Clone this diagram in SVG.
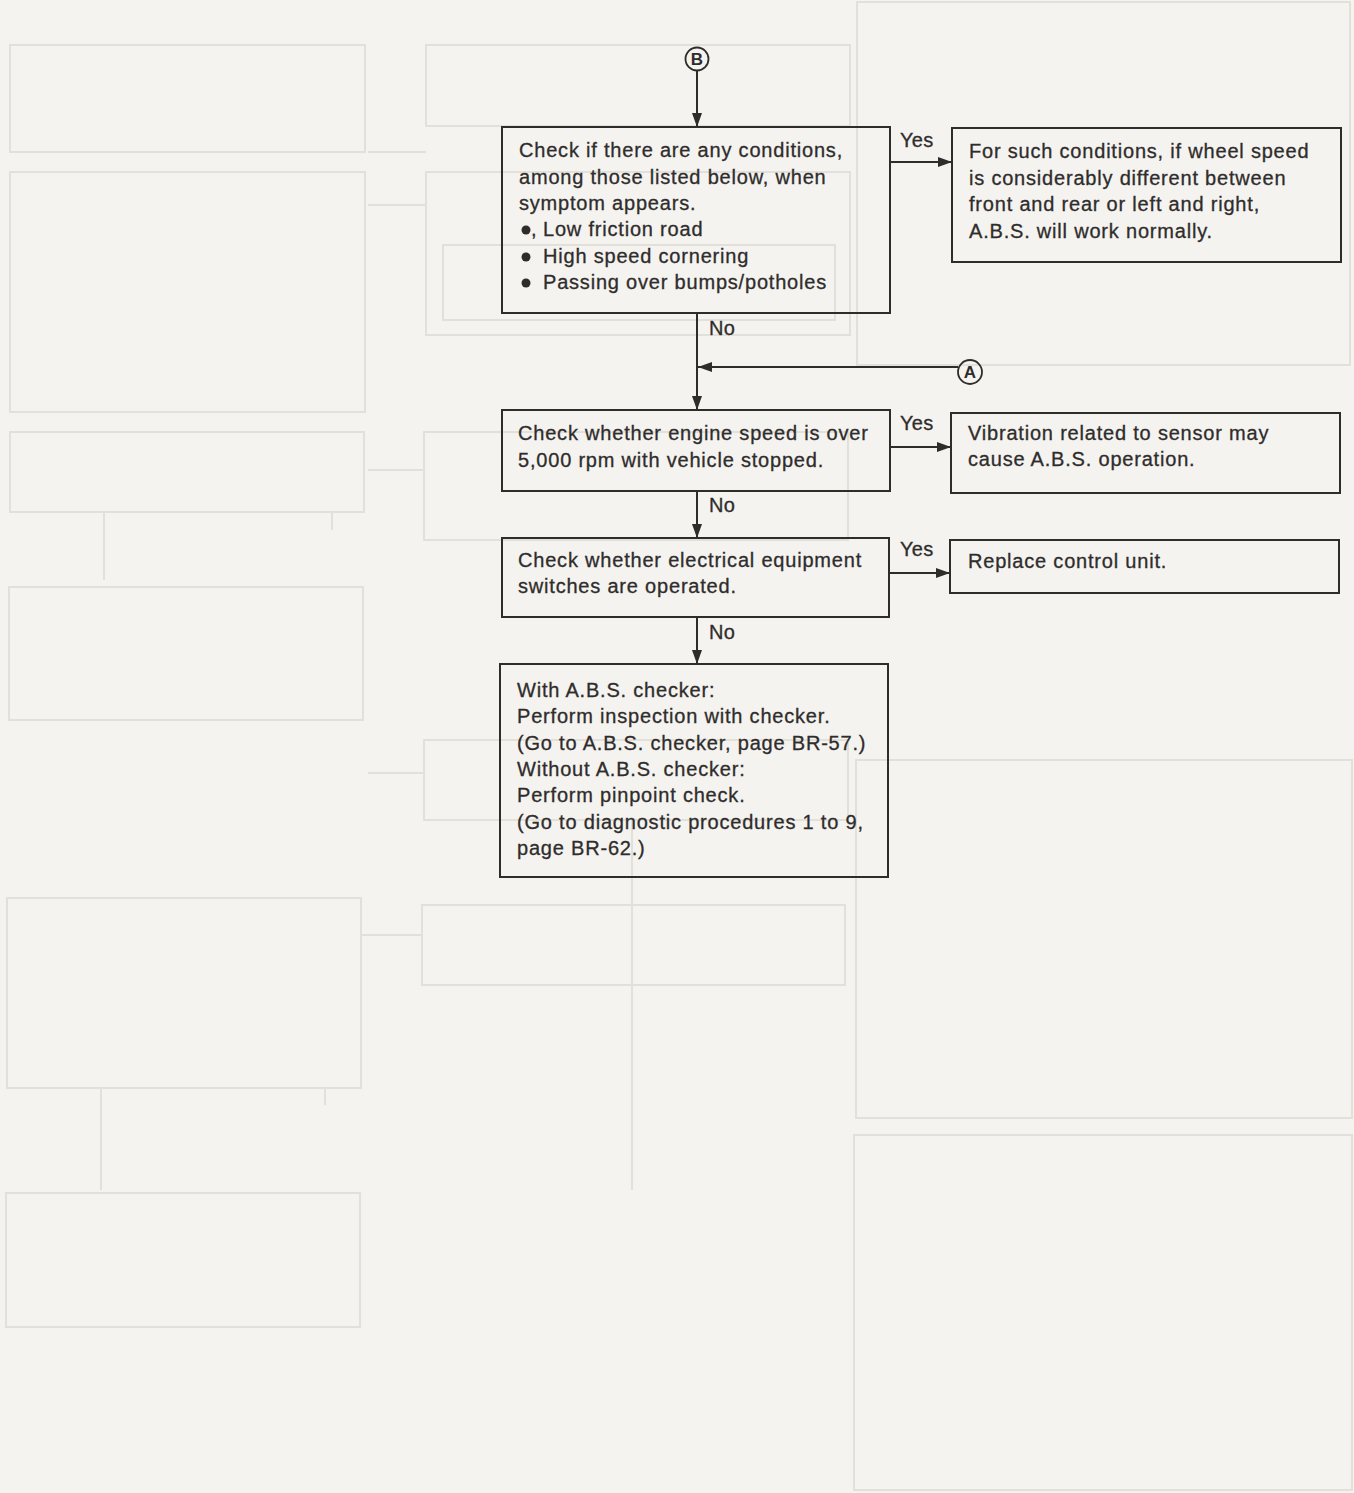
<svg xmlns="http://www.w3.org/2000/svg" width="1354" height="1493" viewBox="0 0 1354 1493">
  <style>
    .sheet { fill: #f4f3ef; }
    .ghost { fill: none; stroke: #e3e0d9; stroke-width: 2; }
    .box { fill: none; stroke: #2f2c2c; stroke-width: 2; }
    .wire { fill: none; stroke: #2f2c2c; stroke-width: 2; }
    .t { font-family: "Liberation Sans", Arial, Helvetica, sans-serif; font-size: 20px; letter-spacing: 0.8px; fill: #2f2c2c; stroke: #2f2c2c; stroke-width: 0.3px; }
    .lbl { font-family: "Liberation Sans", Arial, Helvetica, sans-serif; font-size: 20px; letter-spacing: 0.3px; fill: #2f2c2c; stroke: #2f2c2c; stroke-width: 0.3px; }
    .tag { font-family: "Liberation Sans", Arial, Helvetica, sans-serif; font-size: 17px; font-weight: bold; fill: #2f2c2c; text-anchor: middle; }
    .ring { fill: none; stroke: #2f2c2c; stroke-width: 1.8; }
    .dot { fill: #2f2c2c; }
  </style>
  <defs>
    <marker id="arrow" markerUnits="userSpaceOnUse" markerWidth="14" markerHeight="10" refX="14" refY="5" orient="auto">
      <path d="M0,0 L14,5 L0,10 z" fill="#2f2c2c"/>
    </marker>
  </defs>

  <rect class="sheet" x="0" y="0" width="1354" height="1493"/>

  <!-- faint show-through from the reverse side of the sheet -->
  <g id="show-through">
    <rect class="ghost" x="10" y="45" width="355" height="107"/>
    <rect class="ghost" x="10" y="172" width="355" height="240"/>
    <rect class="ghost" x="10" y="432" width="354" height="80"/>
    <rect class="ghost" x="9" y="587" width="354" height="133"/>
    <rect class="ghost" x="7" y="898" width="354" height="190"/>
    <rect class="ghost" x="6" y="1193" width="354" height="134"/>
    <rect class="ghost" x="426" y="45" width="424" height="81"/>
    <rect class="ghost" x="426" y="172" width="424" height="163"/>
    <rect class="ghost" x="443" y="245" width="392" height="75"/>
    <rect class="ghost" x="424" y="432" width="424" height="108"/>
    <rect class="ghost" x="424" y="740" width="424" height="80"/>
    <rect class="ghost" x="422" y="905" width="423" height="80"/>
    <rect class="ghost" x="857" y="2" width="493" height="363"/>
    <rect class="ghost" x="856" y="760" width="496" height="358"/>
    <rect class="ghost" x="854" y="1135" width="498" height="355"/>
    <path class="ghost" d="M104,512 V580 M332,512 V530 M101,1088 V1190 M325,1088 V1105 M632,820 V1190 M368,152 H426 M368,205 H426 M368,470 H424 M368,773 H424 M362,935 H422"/>
  </g>

  <!-- connectors -->
  <g id="connectors">
    <line class="wire" x1="697" y1="71" x2="697" y2="127" marker-end="url(#arrow)"/>
    <line class="wire" x1="697" y1="313" x2="697" y2="410" marker-end="url(#arrow)"/>
    <line class="wire" x1="958" y1="367" x2="698" y2="367" marker-end="url(#arrow)"/>
    <line class="wire" x1="890" y1="162" x2="952" y2="162" marker-end="url(#arrow)"/>
    <line class="wire" x1="890" y1="447" x2="951" y2="447" marker-end="url(#arrow)"/>
    <line class="wire" x1="697" y1="491" x2="697" y2="538" marker-end="url(#arrow)"/>
    <line class="wire" x1="889" y1="573" x2="950" y2="573" marker-end="url(#arrow)"/>
    <line class="wire" x1="697" y1="617" x2="697" y2="664" marker-end="url(#arrow)"/>
    <text class="lbl" x="709" y="335">No</text>
    <text class="lbl" x="900" y="147">Yes</text>
    <text class="lbl" x="900" y="430">Yes</text>
    <text class="lbl" x="709" y="512">No</text>
    <text class="lbl" x="900" y="556">Yes</text>
    <text class="lbl" x="709" y="639">No</text>
  </g>

  <!-- off-page connector B -->
  <g id="connector-b">
    <circle class="ring" cx="697" cy="59" r="11.5"/>
    <text class="tag" x="697" y="65">B</text>
  </g>

  <!-- off-page connector A -->
  <g id="connector-a">
    <circle class="ring" cx="970" cy="372" r="12"/>
    <text class="tag" x="970" y="378">A</text>
  </g>

  <g id="check-conditions">
    <rect class="box" x="502" y="127" width="388" height="186"/>
    <text class="t" x="519" y="157">Check if there are any conditions,</text>
    <text class="t" x="519" y="184">among those listed below, when</text>
    <text class="t" x="519" y="210">symptom appears.</text>
    <circle class="dot" cx="526" cy="230" r="4.5"/>
    <text class="t" x="531" y="236">,</text>
    <text class="t" x="543" y="236">Low friction road</text>
    <circle class="dot" cx="526" cy="257" r="4.5"/>
    <text class="t" x="543" y="263">High speed cornering</text>
    <circle class="dot" cx="526" cy="283" r="4.5"/>
    <text class="t" x="543" y="289">Passing over bumps/potholes</text>
  </g>

  <g id="normal-operation">
    <rect class="box" x="952" y="128" width="389" height="134"/>
    <text class="t" x="969" y="158">For such conditions, if wheel speed</text>
    <text class="t" x="969" y="185">is considerably different between</text>
    <text class="t" x="969" y="211">front and rear or left and right,</text>
    <text class="t" x="969" y="238">A.B.S. will work normally.</text>
  </g>

  <g id="check-engine-speed">
    <rect class="box" x="502" y="410" width="388" height="81"/>
    <text class="t" x="518" y="440">Check whether engine speed is over</text>
    <text class="t" x="518" y="467">5,000 rpm with vehicle stopped.</text>
  </g>

  <g id="sensor-vibration">
    <rect class="box" x="951" y="413" width="389" height="80"/>
    <text class="t" x="968" y="440">Vibration related to sensor may</text>
    <text class="t" x="968" y="466">cause A.B.S. operation.</text>
  </g>

  <g id="check-switches">
    <rect class="box" x="502" y="538" width="387" height="79"/>
    <text class="t" x="518" y="567">Check whether electrical equipment</text>
    <text class="t" x="518" y="593">switches are operated.</text>
  </g>

  <g id="replace-unit">
    <rect class="box" x="950" y="540" width="389" height="53"/>
    <text class="t" x="968" y="568">Replace control unit.</text>
  </g>

  <g id="inspection">
    <rect class="box" x="500" y="664" width="388" height="213"/>
    <text class="t" x="517" y="697">With A.B.S. checker:</text>
    <text class="t" x="517" y="723">Perform inspection with checker.</text>
    <text class="t" x="517" y="750">(Go to A.B.S. checker, page BR-57.)</text>
    <text class="t" x="517" y="776">Without A.B.S. checker:</text>
    <text class="t" x="517" y="802">Perform pinpoint check.</text>
    <text class="t" x="517" y="829">(Go to diagnostic procedures 1 to 9,</text>
    <text class="t" x="517" y="855">page BR-62.)</text>
  </g>
</svg>
